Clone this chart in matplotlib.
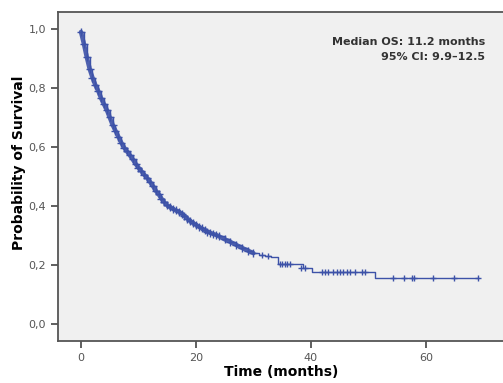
import matplotlib.pyplot as plt
import numpy as np

# Kaplan-Meier curve
time = [0, 0.5, 1.0, 1.5, 2.0, 2.5, 3.0, 3.5, 4.0, 4.5, 5.0, 5.5, 6.0, 6.5, 7.0, 7.5,
        8.0, 8.5, 9.0, 9.5, 10.0, 10.5, 11.0, 11.5, 12.0, 12.5, 13.0, 13.5, 14.0, 14.5,
        15.0, 15.5, 16.0, 16.5, 17.0, 17.5, 18.0, 18.5, 19.0, 19.5, 20.0, 20.5, 21.0,
        21.5, 22.0, 22.5, 23.0, 23.5, 24.0, 25.0, 26.0, 27.0, 28.0, 29.0, 30.0, 31.0,
        32.0, 33.0, 34.3, 38.6, 40.1, 51.1, 69.1]
surv = [0.99, 0.95, 0.905, 0.865, 0.835, 0.81, 0.79, 0.765, 0.745, 0.725, 0.70, 0.675,
        0.655, 0.635, 0.615, 0.598, 0.585, 0.572, 0.558, 0.543, 0.530, 0.518, 0.506,
        0.495, 0.482, 0.468, 0.452, 0.440, 0.425, 0.412, 0.402, 0.396, 0.390, 0.385,
        0.381, 0.374, 0.366, 0.357, 0.349, 0.342, 0.336, 0.330, 0.324, 0.318, 0.313,
        0.309, 0.305, 0.302, 0.297, 0.287, 0.278, 0.268, 0.258, 0.249, 0.240, 0.235,
        0.232, 0.228, 0.203, 0.190, 0.175, 0.155, 0.155]

# censored observations in the tail
cens_time = [31.5, 32.5, 34.6, 35.0, 35.4, 35.8, 36.3, 38.2, 39.0,
             41.9, 42.4, 43.0, 43.9, 44.5, 45.0, 45.6, 46.2, 46.8, 47.7, 48.8, 49.4,
             54.3, 56.1, 57.5, 57.9, 61.3, 64.8, 69.1]
cens_surv = [0.235, 0.232, 0.203, 0.203, 0.203, 0.203, 0.203, 0.190, 0.190,
             0.175, 0.175, 0.175, 0.175, 0.175, 0.175, 0.175, 0.175, 0.175, 0.175, 0.175, 0.175,
             0.155, 0.155, 0.155, 0.155, 0.155, 0.155, 0.155]

yticks = [0.0, 0.2, 0.4, 0.6, 0.8, 1.0]
ytick_labels = ["0,0", "0,2", "0,4", "0,6", "0,8", "1,0"]
xticks = [0, 20, 40, 60]

blue = "#3d52a8"
n_dense = 55  # early part is a dense band of censor marks

fig = plt.figure(figsize=(5.03, 3.83), dpi=100)
ax = fig.add_axes([0.1153, 0.1097, 0.8847, 0.859])
ax.set_facecolor("#f0f0f0")

ax.step(time, surv, where="post", color=blue, lw=1.0)
ax.plot(time[:n_dense], surv[:n_dense], "-", color=blue, lw=3.2, alpha=0.9,
        solid_capstyle="round")
ax.plot(time[:n_dense], surv[:n_dense], "+", color=blue, ms=6, mew=1.0)
ax.plot(cens_time, cens_surv, "+", color=blue, ms=5, mew=1.0)

ax.set_xlim(-4, 73.4)
ax.set_ylim(-0.0576, 1.0576)
ax.set_xticks(xticks)
ax.set_yticks(yticks)
ax.set_yticklabels(ytick_labels)
ax.tick_params(direction="out", length=5, width=1.2, colors="#444444",
               labelsize=8, labelcolor="#555555")

for side in ["left", "bottom", "top"]:
    ax.spines[side].set_color("#555555")
    ax.spines[side].set_linewidth(1.3)
ax.spines["right"].set_visible(False)

fig.text(0.038, 0.574, "Probability of Survival", rotation=90, ha="center",
         va="center", fontsize=10, fontweight="bold")
fig.text(0.56, 0.028, "Time (months)", ha="center", va="center",
         fontsize=10, fontweight="bold")

ax.text(0.96, 0.91, "Median OS: 11.2 months", transform=ax.transAxes,
        ha="right", va="center", fontsize=8, fontweight="bold", color="#333333")
ax.text(0.96, 0.862, "95% CI: 9.9\u201312.5", transform=ax.transAxes,
        ha="right", va="center", fontsize=8, fontweight="bold", color="#333333")

fig.savefig("out.png", dpi=100)
